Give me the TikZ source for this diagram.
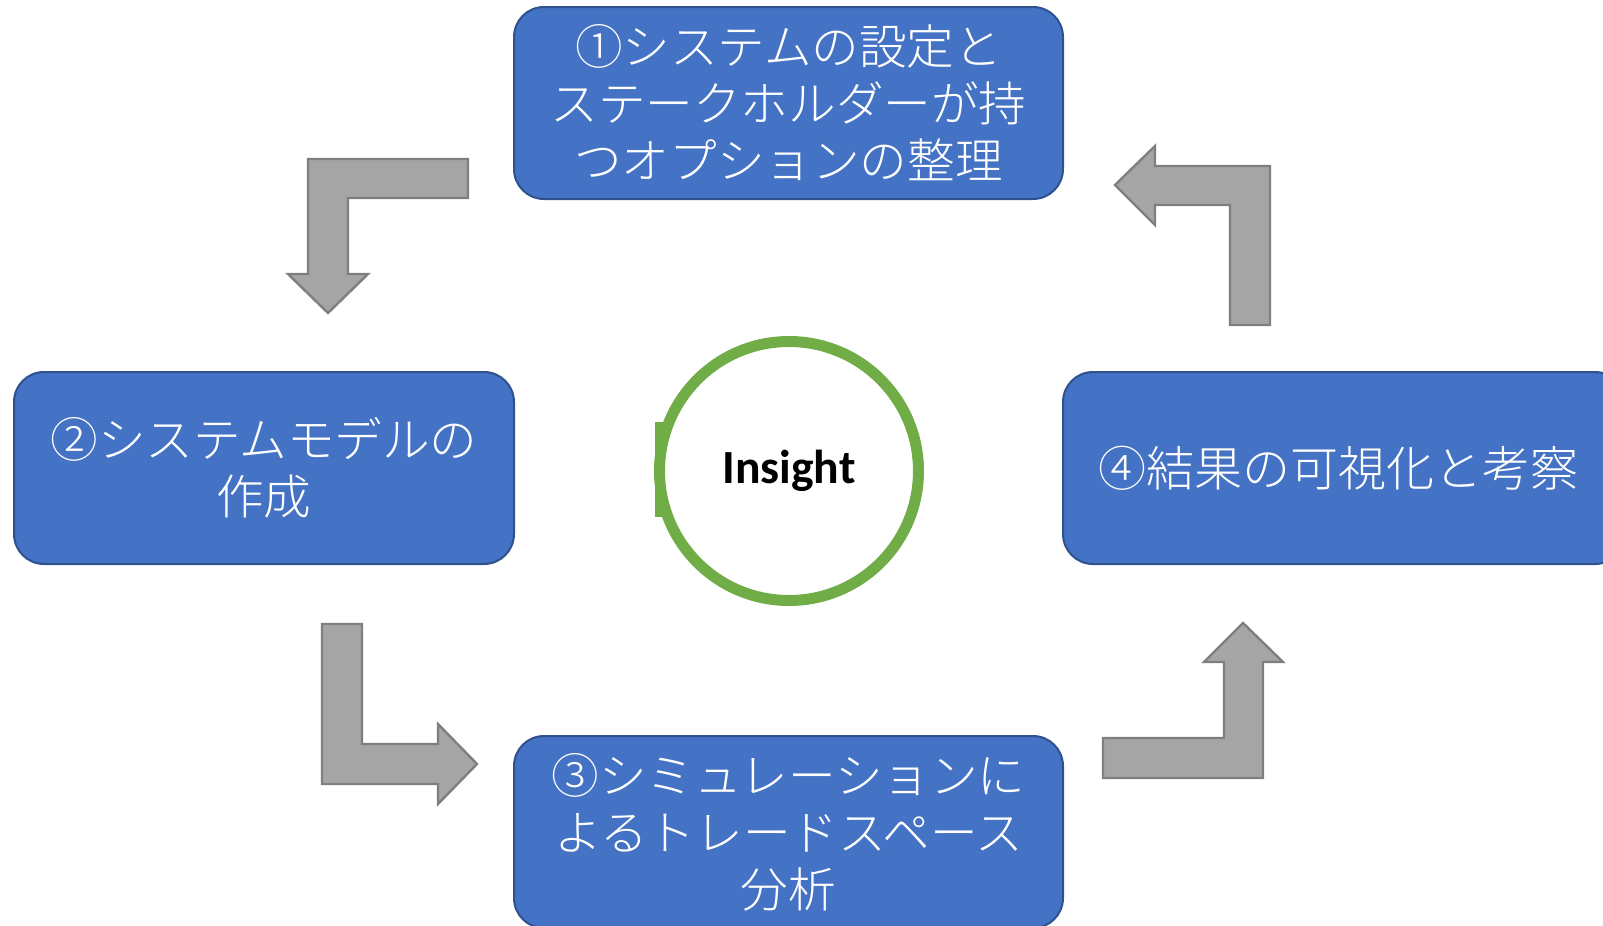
\documentclass[tikz,border=0pt]{standalone}
\usepackage{fontspec}
\setmainfont{Carlito}
\newfontfamily\jpfont{Noto Sans CJK JP}[UprightFont={* Light}]
\usetikzlibrary{positioning}
\definecolor{boxblue}{HTML}{4472C4}
\definecolor{boxline}{HTML}{2F528F}
\definecolor{ringgreen}{HTML}{70AD47}
\definecolor{arrowgray}{HTML}{A5A5A5}
\definecolor{arrowline}{HTML}{7F7F7F}

\begin{document}
\begin{tikzpicture}[x=0.5pt,y=-0.5pt,
    stagebox/.style={draw=boxline, line width=1pt, fill=boxblue, rounded corners=15pt,
        text=white, align=center, minimum height=96pt, inner sep=0pt,
        font={\jpfont\fontsize{23.8pt}{28.5pt}\selectfont}},
    bentarrow/.style={draw=arrowline, line width=1.2pt, fill=arrowgray, line join=miter}]
    \useasboundingbox (0,0) rectangle (1603,926);
    % four stages
    \node[stagebox, minimum width=274.5pt] (S1) at (788.5,103) {
        ①システムの設定と\\
        ステークホルダーが持\\
        つオプションの整理
    };
    \node[stagebox, minimum width=250pt] (S2) at (264,468) {
        ②システムモデルの\\
        作成
    };
    \node[stagebox, minimum width=274.5pt] (S3) at (788.5,832) {
        ③シミュレーションに\\
        よるトレードスペース\\
        分析
    };
    \node[stagebox, minimum width=281pt,
        font={\jpfont\fontsize{24pt}{30pt}\selectfont}] (S4) at (1344,468) {
        ④結果の可視化と考察
    };
    % centre
    \fill[ringgreen] (655,422) rectangle (665,517);
    \node[circle, draw=ringgreen, line width=5.5pt, fill=white, minimum size=129.5pt,
        inner sep=0pt, font={\fontsize{23.8pt}{28pt}\selectfont\bfseries}] (insight) at (789,471) {Insight};
    % bent arrows
    \draw[bentarrow] (468,159) -- (308,159) -- (308,274) -- (288,274) -- (328,313)
        -- (368,274) -- (348,274) -- (348,198) -- (468,198) -- cycle;
    \draw[bentarrow] (322,624) -- (362,624) -- (362,744) -- (438,744) -- (438,724)
        -- (477,764) -- (438,804) -- (438,784) -- (322,784) -- cycle;
    \draw[bentarrow] (1103,738) -- (1224,738) -- (1224,662) -- (1204,662) -- (1243,623)
        -- (1283,662) -- (1263,662) -- (1263,778) -- (1103,778) -- cycle;
    \draw[bentarrow] (1270,325) -- (1230,325) -- (1230,205) -- (1155,205) -- (1155,225)
        -- (1115,185) -- (1155,146) -- (1155,166) -- (1270,166) -- cycle;
\end{tikzpicture}
\end{document}
